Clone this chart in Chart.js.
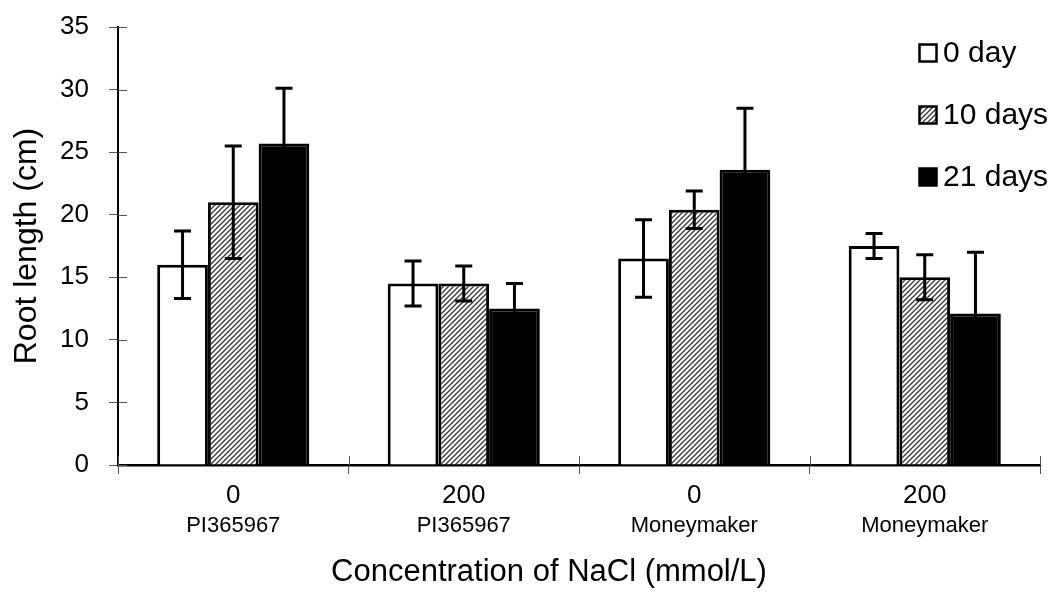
<!DOCTYPE html>
<html>
<head>
<meta charset="utf-8">
<script src="https://cdn.jsdelivr.net/npm/chart.js@4.4.1/dist/chart.umd.min.js"></script>
<style>
  html, body { margin: 0; padding: 0; background: #fff; }
  #wrap { width: 1059px; height: 605px; }
</style>
</head>
<body>
<div id="wrap"><canvas id="c" width="1059" height="605"></canvas></div>
<script>
// ---- data ----
const categories = ['0', '200', '0', '200'];
const cultivars = ['PI365967', 'PI365967', 'Moneymaker', 'Moneymaker'];
const seriesLabels = ['0 day', '10 days', '21 days'];
const day0 = [16.0, 14.5, 16.5, 17.5];
const day0Err = [2.7, 1.8, 3.1, 1.0];
const day10 = [21.0, 14.5, 20.4, 15.0];
const day10Err = [4.5, 1.4, 1.5, 1.8];
const day21 = [25.7, 12.5, 23.6, 12.1];
const day21Err = [4.4, 2.0, 4.9, 4.9];
const yMin = 0, yMax = 35, yStep = 5;
const yTitle = 'Root length (cm)';
const xTitle = 'Concentration of NaCl (mmol/L)';

const FONT = "'Liberation Sans', Arial, Helvetica, sans-serif";

function makeHatch() {
  const s = 5;
  const c = document.createElement('canvas');
  c.width = s; c.height = s;
  const g = c.getContext('2d');
  g.fillStyle = '#fff';
  g.fillRect(0, 0, s, s);
  g.strokeStyle = '#3a3a3a';
  g.lineWidth = 1.4;
  g.beginPath();
  g.moveTo(-1, s + 1); g.lineTo(s + 1, -1);
  g.moveTo(-1, 1); g.lineTo(1, -1);
  g.moveTo(s - 1, s + 1); g.lineTo(s + 1, s - 1);
  g.stroke();
  return g.createPattern(c, 'repeat');
}
const hatch = makeHatch();

const errors = [day0Err, day10Err, day21Err];

const errorBarPlugin = {
  id: 'errorBars',
  afterDatasetsDraw(chart) {
    const ctx = chart.ctx;
    const ys = chart.scales.y;
    ctx.save();
    ctx.strokeStyle = '#000';
    ctx.lineWidth = 3;
    ctx.lineCap = 'butt';
    chart.data.datasets.forEach((ds, di) => {
      const meta = chart.getDatasetMeta(di);
      meta.data.forEach((el, i) => {
        const v = ds.data[i], e = errors[di][i];
        const x = el.x;
        const yt = ys.getPixelForValue(v + e);
        const yb = ys.getPixelForValue(v - e);
        const cw = 8.5;
        ctx.beginPath();
        ctx.moveTo(x, yt); ctx.lineTo(x, yb);
        ctx.moveTo(x - cw, yt); ctx.lineTo(x + cw, yt);
        ctx.moveTo(x - cw, yb); ctx.lineTo(x + cw, yb);
        ctx.stroke();
      });
    });
    ctx.restore();
  }
};

const innerTicksPlugin = {
  id: 'innerTicks',
  afterDraw(chart) {
    const ctx = chart.ctx;
    const xs = chart.scales.x, ys = chart.scales.y;
    ctx.save();
    ctx.strokeStyle = '#555';
    ctx.lineWidth = 1;
    ctx.beginPath();
    ys.ticks.forEach((t, i) => {
      const y = Math.round(ys.getPixelForTick(i)) + 0.5;
      ctx.moveTo(ys.right, y); ctx.lineTo(ys.right + 9, y);
    });
    for (let i = 0; i <= categories.length; i++) {
      const x = Math.round(xs.getPixelForValue(i - 0.5)) + 0.5;
      ctx.moveTo(x, xs.top); ctx.lineTo(x, xs.top - 9);
    }
    ctx.stroke();
    // x axis title
    ctx.fillStyle = '#000';
    ctx.font = '31px ' + FONT;
    ctx.textAlign = 'center';
    ctx.textBaseline = 'middle';
    ctx.fillText(xTitle, 549, 572);
    ctx.restore();
  }
};

const legendPlugin = {
  id: 'customLegend',
  afterDraw(chart) {
    const ctx = chart.ctx;
    ctx.save();
    const bx = 919.5, box = 17, tx = 943;
    const ys0 = 53, gap = 62;
    ctx.font = '30px ' + FONT;
    ctx.textBaseline = 'middle';
    ctx.textAlign = 'left';
    chart.data.datasets.forEach((ds, i) => {
      const cy = ys0 + i * gap;
      ctx.fillStyle = ds.backgroundColor;
      ctx.fillRect(bx, cy - box / 2, box, box);
      ctx.strokeStyle = '#000';
      ctx.lineWidth = 2.5;
      ctx.strokeRect(bx, cy - box / 2, box, box);
      ctx.fillStyle = '#000';
      ctx.fillText(ds.label, tx, cy + 1);
    });
    ctx.restore();
  }
};

new Chart(document.getElementById('c'), {
  type: 'bar',
  data: {
    labels: categories,
    datasets: [
      { label: seriesLabels[0], data: day0, backgroundColor: '#ffffff', borderColor: '#000', borderWidth: 3 },
      { label: seriesLabels[1], data: day10, backgroundColor: hatch, borderColor: '#000', borderWidth: 3 },
      { label: seriesLabels[2], data: day21, backgroundColor: '#000000', borderColor: '#000', borderWidth: 3 }
    ]
  },
  options: {
    responsive: false,
    animation: false,
    events: [],
    layout: { padding: { left: 0, right: 19, top: 27, bottom: 0 } },
    datasets: { bar: { categoryPercentage: 0.66, barPercentage: 1.0, borderSkipped: 'start' } },
    plugins: { legend: { display: false }, tooltip: { enabled: false } },
    scales: {
      x: {
        type: 'category',
        position: 'bottom',
        offset: true,
        grid: { offset: true, drawOnChartArea: false, tickLength: 9, color: '#555', lineWidth: 1 },
        border: { color: '#000', width: 2.5 },
        ticks: { color: '#000', font: { family: FONT, size: 26 }, padding: 6, maxRotation: 0, autoSkip: false },
        afterFit(s) { s.height = 48; }
      },
      x2: {
        type: 'category',
        labels: cultivars,
        position: 'bottom',
        offset: true,
        grid: { display: false, drawTicks: false },
        border: { display: false },
        ticks: { color: '#000', font: { family: FONT, size: 22 }, padding: 0, maxRotation: 0, autoSkip: false },
        afterFit(s) { s.height = 92; }
      },
      y: {
        min: yMin, max: yMax,
        grid: { drawOnChartArea: false, tickLength: 9, color: '#555', lineWidth: 1 },
        border: { color: '#000', width: 2 },
        ticks: { stepSize: yStep, color: '#000', font: { family: FONT, size: 26 }, padding: 20 },
        title: { display: true, text: yTitle, color: '#000', font: { family: FONT, size: 32 }, padding: { top: 8, bottom: 0 } },
        afterFit(s) { s.width = 118; s.paddingTop = 0; s.paddingBottom = 0; }
      }
    }
  },
  plugins: [errorBarPlugin, innerTicksPlugin, legendPlugin]
});
</script>
</body>
</html>
